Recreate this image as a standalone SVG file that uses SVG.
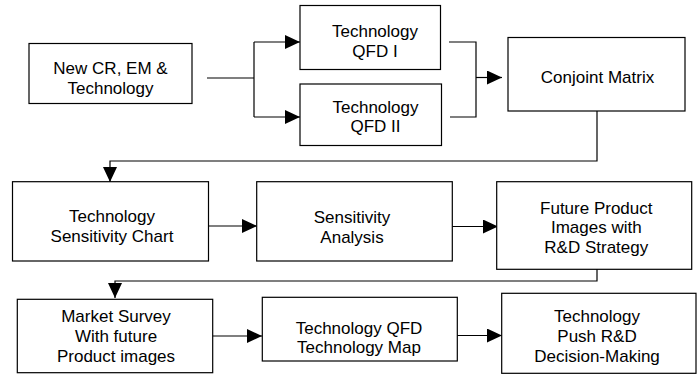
<svg xmlns="http://www.w3.org/2000/svg" width="699" height="377" viewBox="0 0 699 377">
<defs>
<style>
.box{fill:#fff;stroke:#000;stroke-width:1.2}
.ln{fill:none;stroke:#000;stroke-width:1.2}
text{font-family:"Liberation Sans",Arial,sans-serif;font-size:17px;fill:#000;text-anchor:middle}
</style>
<marker id="ah" markerUnits="userSpaceOnUse" markerWidth="16" markerHeight="14" refX="15" refY="7" orient="auto" viewBox="0 0 16 14">
<path d="M0,0 L15,7 L0,14 z" fill="#000"/>
</marker>
</defs>
<rect width="699" height="377" fill="#fff"/>
<g id="connectors">
<path class="ln" d="M207,78 H254"/>
<path class="ln" d="M254,42 V117"/>
<path class="ln" d="M254,42 H300" marker-end="url(#ah)"/>
<path class="ln" d="M254,117 H300" marker-end="url(#ah)"/>
<path class="ln" d="M449,42 H476 V117 H450"/>
<path class="ln" d="M476,77.5 H502" marker-end="url(#ah)"/>
<path class="ln" d="M597,111 V161 H110 V182" marker-end="url(#ah)"/>
<path class="ln" d="M207,226 H257" marker-end="url(#ah)"/>
<path class="ln" d="M447,226.5 H498" marker-end="url(#ah)"/>
<path class="ln" d="M597,266 V281 H115 V298" marker-end="url(#ah)"/>
<path class="ln" d="M211,336 H262" marker-end="url(#ah)"/>
<path class="ln" d="M455,335.5 H502" marker-end="url(#ah)"/>
</g>
<g id="n1"><rect class="box" x="29" y="43.5" width="163" height="60"/><text x="110.5" y="74">New CR, EM &amp;</text><text x="110.5" y="94">Technology</text></g>
<g id="n2"><rect class="box" x="300" y="5.5" width="140.5" height="64"/><text x="375" y="37.3">Technology</text><text x="375" y="57.3">QFD I</text></g>
<g id="n3"><rect class="box" x="300" y="84" width="141.5" height="61.5"/><text x="375.5" y="112.7">Technology</text><text x="375.5" y="131.7">QFD II</text></g>
<g id="n4"><rect class="box" x="508" y="37.5" width="177" height="73.5"/><text x="597.5" y="83.3">Conjoint Matrix</text></g>
<g id="n5"><rect class="box" x="12.5" y="181.7" width="196" height="79.3"/><text x="112" y="222">Technology</text><text x="112" y="242">Sensitivity Chart</text></g>
<g id="n6"><rect class="box" x="256.7" y="181.7" width="195.6" height="79.3"/><text x="352" y="223">Sensitivity</text><text x="352" y="243">Analysis</text></g>
<g id="n7"><rect class="box" x="496.7" y="181.7" width="195" height="87.6"/><text x="596.3" y="214">Future Product</text><text x="596.3" y="233.3">Images with</text><text x="596.3" y="252.7">R&amp;D Strategy</text></g>
<g id="n8"><rect class="box" x="17.3" y="299.3" width="195.4" height="73.4"/><text x="116" y="321.7">Market Survey</text><text x="116" y="341.7">With future</text><text x="116" y="361.7">Product images</text></g>
<g id="n9"><rect class="box" x="262.3" y="297.3" width="195" height="63.7"/><text x="359" y="334.3">Technology QFD</text><text x="359" y="353.3">Technology Map</text></g>
<g id="n10"><rect class="box" x="501.7" y="293.3" width="194.3" height="80"/><text x="597" y="321.7">Technology</text><text x="597" y="341.7">Push R&amp;D</text><text x="597" y="361.7">Decision-Making</text></g>
</svg>
